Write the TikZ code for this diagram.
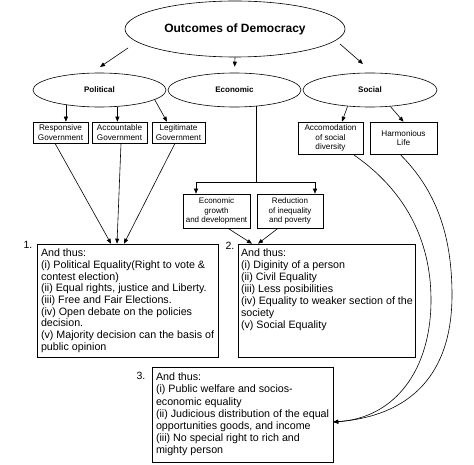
\documentclass[tikz,border=0pt]{standalone}
\usepackage{fontspec}
\setmainfont{Liberation Sans}
\usetikzlibrary{shapes.geometric,arrows.meta}
\begin{document}
\begin{tikzpicture}[x=1pt,y=-1pt, line width=0.6pt,
  arr/.style={-{Triangle[length=5pt,width=4pt]}},
  ell/.style={draw, ellipse, inner sep=0pt},
  sbox/.style={draw, rectangle, inner sep=0pt, align=center, font=\fontsize{8.2}{9.3}\selectfont},
  ebox/.style={draw, rectangle, inner sep=0pt, align=center, font=\fontsize{8}{9.2}\selectfont},
  bigbox/.style={draw, rectangle, inner sep=0pt},
  btext/.style={anchor=north west, inner sep=0pt, align=left},
  num/.style={font=\fontsize{10.5}{12}\selectfont, inner sep=0pt}]
\useasboundingbox (0,0) rectangle (474,465);

% ellipses
\node[ell, minimum width=220pt, minimum height=56pt, font=\bfseries\fontsize{12}{14}\selectfont] (top) at (235,29) {Outcomes of Democracy};
\node[ell, minimum width=133pt, minimum height=34pt, font=\bfseries\fontsize{8}{9.3}\selectfont] (pol) at (99.5,90) {Political};
\node[ell, minimum width=133pt, minimum height=34pt, font=\bfseries\fontsize{8}{9.3}\selectfont] (eco) at (234.5,90) {Economic};
\node[ell, minimum width=134pt, minimum height=34pt, font=\bfseries\fontsize{8}{9.3}\selectfont] (soc) at (370,90) {Social};

% small boxes
\node[sbox, minimum width=55pt, minimum height=21pt] (resp) at (60.5,132.5) {Responsive\\Government};
\node[sbox, minimum width=55pt, minimum height=21pt] (acc) at (119.5,132.5) {Accountable\\Government};
\node[sbox, minimum width=53pt, minimum height=21pt] (leg) at (178.5,132.5) {Legitimate\\Government};
\node[sbox, minimum width=65pt, minimum height=32pt] (accom) at (330.5,138) {Accomodation\\of social\\diversity};
\node[sbox, minimum width=67pt, minimum height=32pt] (harm) at (403.5,138) {Harmonious\\Life};
\node[ebox, minimum width=67pt, minimum height=34pt] (ecg) at (216.5,211) {Economic\\growth\\and development};
\node[ebox, minimum width=66pt, minimum height=34pt] (red) at (290,211) {Reduction\\of inequality\\and poverty};

% big boxes
\node[bigbox, minimum width=181pt, minimum height=113pt] (b1) at (127.5,300.5) {};
\node[bigbox, minimum width=177pt, minimum height=113pt] (b2) at (326.5,300.5) {};
\node[bigbox, minimum width=181pt, minimum height=95pt] (b3) at (242.5,414.5) {};

\node[btext, font=\fontsize{10.7}{11.7}\selectfont] (b1t) at ([xshift=4pt,yshift=-5pt]b1.north west)
 {And thus:\\(i) Political Equality(Right to vote \&\\contest election)\\(ii) Equal rights, justice and Liberty.\\(iii) Free and Fair Elections.\\(iv) Open debate on the policies\\decision.\\(v) Majority decision can the basis of\\public opinion};
\node[btext, font=\fontsize{10.7}{12}\selectfont] (b2t) at ([xshift=3pt,yshift=-5pt]b2.north west)
 {And thus:\\(i) Diginity of a person\\(ii) Civil Equality\\(iii) Less posibilities\\(iv) Equality to weaker section of the\\society\\(v) Social Equality};
\node[btext, font=\fontsize{10.7}{12.2}\selectfont] (b3t) at ([xshift=4pt,yshift=-6pt]b3.north west)
 {And thus:\\(i) Public welfare and socios-\\economic equality\\(ii) Judicious distribution of the equal\\opportunities goods, and income\\(iii) No special right to rich and\\mighty person};

\node[num] (n1) at (28,245) {1.};
\node[num] (n2) at (230,246) {2.};
\node[num] (n3) at (141,376) {3.};

% connectors from title
\coordinate (ta1) at (128,48);
\coordinate (ta2) at (100,67);
\coordinate (tc1) at (340,44);
\coordinate (tc2) at (363,64);
\draw[arr] (ta1) -- (ta2);
\draw[arr, shorten >=6pt] (top.south) -- (eco.north);
\draw[arr] (tc1) -- (tc2);

% political and social
\draw[arr] (pol.204) -- (pol.204 |- resp.north);
\draw[arr] (pol.317) -- (pol.317 |- acc.north);
\draw[arr] (pol.350) -- ([xshift=-11.5pt]leg.north);
\draw[arr] (soc.216) -- ([xshift=11.5pt]accom.north);
\draw[arr] (soc.321) -- (harm.north);

% economic
\coordinate (ej) at (256,182);
\draw (eco.323) -- (eco.323 |- ej);
\draw[arr] (eco.323 |- ej) -| ([xshift=-20.5pt]ecg.north);
\draw[arr] (eco.323 |- ej) -| ([xshift=25pt]red.north);

% to box 2
\draw[arr] ([xshift=11.5pt]ecg.south) -- ([xshift=-74.5pt]b2.north);
\draw[arr] ([xshift=-12pt]red.south) -- ([xshift=-68.5pt]b2.north);

% to box 1
\draw[arr] ([xshift=-5.5pt]resp.south) -- ([xshift=-16.5pt]b1.north);
\draw[arr] ([xshift=1.5pt]acc.south) -- ([xshift=-10.5pt]b1.north);
\draw[arr] ([xshift=-3.5pt]leg.south) -- ([xshift=-3.5pt]b1.north);

% curves to box 3
\draw[arr] ([xshift=22.5pt]accom.south) .. controls (405,190) and (431,240) .. (431,300)
  .. controls (431,370) and (395,418) .. ([yshift=-7.5pt]b3.east);
\draw[arr] ([xshift=-3.5pt]harm.south) .. controls (436,190) and (452,235) .. (452,295)
  .. controls (452,375) and (410,416) .. ([yshift=-7.5pt]b3.east);
\end{tikzpicture}
\end{document}
